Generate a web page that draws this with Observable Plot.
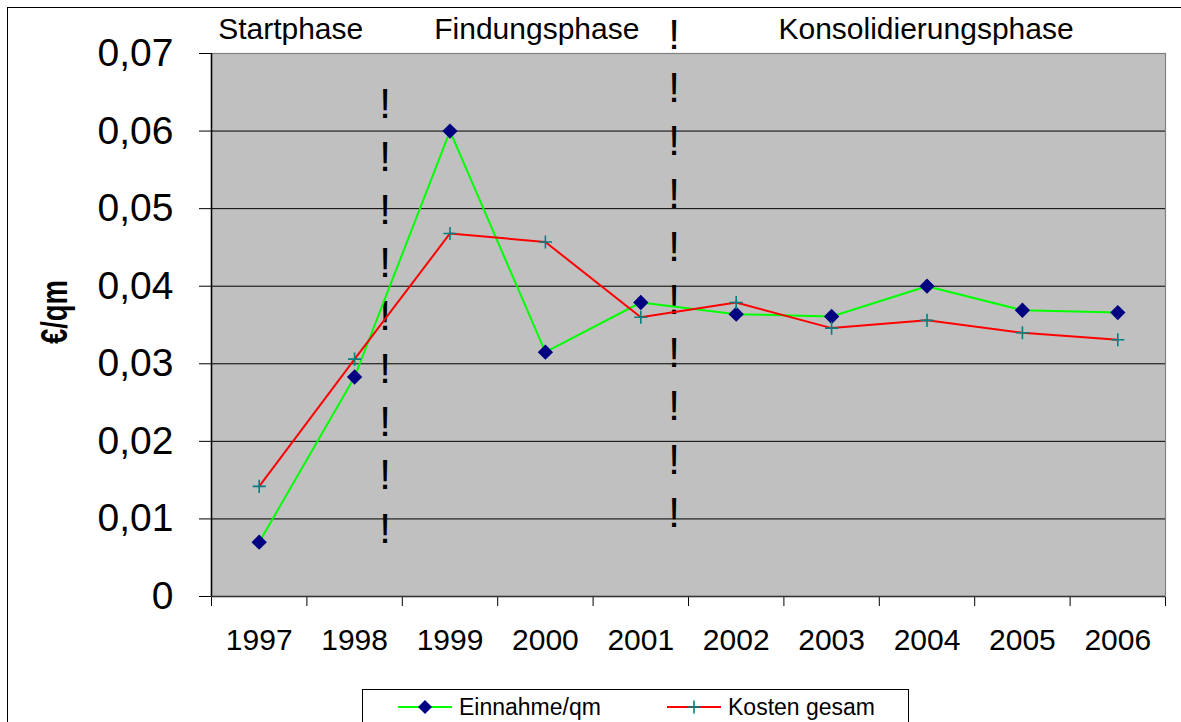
<!DOCTYPE html>
<html>
<head>
<meta charset="utf-8">
<script src="https://cdn.jsdelivr.net/npm/d3@7"></script>
<script src="https://cdn.jsdelivr.net/npm/@observablehq/plot@0.6"></script>
<style>
  html, body { margin: 0; padding: 0; background: #fff; width: 1181px; height: 722px; overflow: hidden; }
  #frame { position: absolute; left: 7px; top: 7px; width: 1300px; height: 800px; border: 1.5px solid #000; box-sizing: border-box; }
  #chart { position: absolute; left: 0; top: 0; }
  #legend { position: absolute; left: 362px; top: 689px; width: 547px; height: 48px; border: 1px solid #000; box-sizing: border-box; background: #fff;
            font-family: "Liberation Sans", Arial, sans-serif; font-size: 23px; color: #000; }
  .item { position: absolute; top: 0; height: 34px; display: flex; align-items: center; }
  .item svg { display: block; }
  .item span { margin-left: 6px; white-space: nowrap; }
</style>
</head>
<body>
<div id="frame"></div>
<div id="chart"></div>
<div id="legend"></div>
<script>
// ---- data ----
const years = [1997, 1998, 1999, 2000, 2001, 2002, 2003, 2004, 2005, 2006];
const einnahme = [0.0070, 0.0283, 0.0600, 0.0315, 0.0379, 0.0364, 0.0361, 0.0400, 0.0369, 0.0366];
const kosten   = [0.0142, 0.0306, 0.0468, 0.0457, 0.0360, 0.0379, 0.0346, 0.0356, 0.0340, 0.0331];
const seriesNames = ["Einnahme/qm", "Kosten gesam"];
const yTicks = [0, 0.01, 0.02, 0.03, 0.04, 0.05, 0.06, 0.07];
const yTickLabels = ["0", "0,01", "0,02", "0,03", "0,04", "0,05", "0,06", "0,07"];
const yTitle = "€/qm";
const phaseLabels = ["Startphase", "Findungsphase", "Konsolidierungsphase"];
const phaseAt = [1997.33, 1999.91, 2003.99];
const separatorAt = [1998.32, 2001.35];
const separatorTop = [0.0666, 0.0755];
const separatorCount = [9, 10];

// ---- derived tables ----
const rows = years.map((year, i) => ({year, einnahme: einnahme[i], kosten: kosten[i]}));
const boundaries = years.map(y => y - 0.5).concat([years[years.length - 1] + 0.5]);
const phases = phaseLabels.map((label, i) => ({label, x: phaseAt[i]}));
const separators = separatorAt.map((x, i) => ({x, y: separatorTop[i], text: Array(separatorCount[i]).fill("!").join("\n")}));
const labelOf = new Map(yTicks.map((t, i) => [t, yTickLabels[i]]));

const font = "Liberation Sans, Arial, sans-serif";

const chart = Plot.plot({
  width: 1181,
  height: 722,
  marginLeft: 211,
  marginRight: 16,
  marginTop: 53,
  marginBottom: 126,
  style: {fontFamily: font, fontSize: "39px", color: "#000", background: "transparent", overflow: "visible"},
  x: {domain: [boundaries[0], boundaries[boundaries.length - 1]], ticks: boundaries, tickSize: 10, tickFormat: () => "", label: null},
  y: {domain: [0, 0.07], ticks: yTicks, tickSize: 12, tickPadding: 26, tickFormat: d => labelOf.get(d) ?? "", label: null},
  marks: [
    Plot.frame({fill: "#C0C0C0", stroke: "#808080", strokeWidth: 1.2}),
    Plot.ruleY(yTicks.slice(1, -1), {stroke: "#000", strokeWidth: 1}),
    Plot.ruleX([boundaries[0]], {stroke: "#000", strokeWidth: 1.5}),
    Plot.ruleY([0], {stroke: "#333", strokeWidth: 1.5}),
    Plot.text(separators, {x: "x", y: "y", text: "text", lineAnchor: "top", lineHeight: 1.265, fontSize: 42, fill: "#000"}),
    Plot.line(rows, {x: "year", y: "einnahme", stroke: "#00FF00", strokeWidth: 2}),
    Plot.dot(rows, {x: "year", y: "einnahme", symbol: "diamond2", r: 6.9, fill: "#000080", stroke: "none"}),
    Plot.line(rows, {x: "year", y: "kosten", stroke: "#FF0000", strokeWidth: 2}),
    Plot.dot(rows, {x: "year", y: "kosten", symbol: "plus", r: 4.3, stroke: "#008080", strokeWidth: 1.6}),
    Plot.text(years, {x: d => d, text: d => String(d), frameAnchor: "bottom", lineAnchor: "middle", dy: 44, fontSize: 30, fill: "#000"}),
    Plot.text(phases, {x: "x", text: "label", frameAnchor: "top", lineAnchor: "middle", dy: -24, fontSize: 30, fill: "#000"}),
    Plot.text([yTitle], {text: d => d, frameAnchor: "left", textAnchor: "middle", lineAnchor: "middle", rotate: -90, dx: -156, dy: -13, fontSize: 36, fontWeight: "bold", fill: "#000", className: "ytitle"})
  ]
});
document.getElementById("chart").appendChild(chart);
// squeeze the axis title along its reading direction, as in the reference
chart.querySelectorAll(".ytitle text").forEach(t => { t.setAttribute("textLength", "64"); t.setAttribute("lengthAdjust", "spacingAndGlyphs"); });

// ---- legend ----
const legend = document.getElementById("legend");
const legendStyles = [
  {line: "#00FF00", left: 35, marker: () => `<path d="M27,-7 L34,0 L27,7 L20,0 Z" fill="#000080"/>`},
  {line: "#FF0000", left: 304, marker: () => `<path d="M27,-6.5 L27,6.5 M20.5,0 L33.5,0" stroke="#008080" stroke-width="1.6"/>`}
];
seriesNames.forEach((name, i) => {
  const s = legendStyles[i];
  const div = document.createElement("div");
  div.className = "item";
  div.style.left = s.left + "px";
  div.innerHTML = `<svg width="55" height="20" viewBox="0 -10 55 20"><line x1="0" x2="54" y1="0" y2="0" stroke="${s.line}" stroke-width="2"/>${s.marker()}</svg><span>${name}</span>`;
  legend.appendChild(div);
});
</script>
</body>
</html>
